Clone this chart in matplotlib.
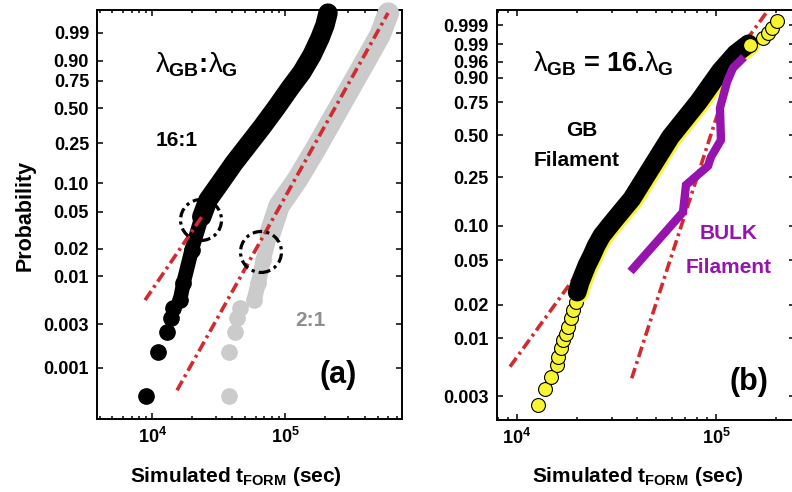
import numpy as np
import matplotlib
matplotlib.use('Agg')
import matplotlib.pyplot as plt
import matplotlib.transforms as mtransforms
from matplotlib.patches import Circle
from matplotlib.ticker import FixedLocator, LogLocator, NullLocator

plt.rcParams['font.family'] = ['Liberation Sans', 'DejaVu Sans']
plt.rcParams['mathtext.fontset'] = 'custom'
plt.rcParams['mathtext.rm'] = 'Liberation Sans'
plt.rcParams['mathtext.it'] = 'Liberation Sans'
plt.rcParams['mathtext.bf'] = 'Liberation Sans:bold'

# --- (a) lambda_GB : lambda_G, failure times (s) and Weibull probabilities ---
black_t = [8970, 10990, 12970, 13760, 14400, 16170, 17130, 19820, 23570, 26280,
           32370, 41270, 52630, 67100, 85540, 109100, 134300, 159800, 183500,
           200100, 210900]
black_p = [0.0005, 0.0015, 0.0025, 0.0035, 0.0045, 0.0055, 0.0084, 0.0195, 0.044,
           0.0665, 0.100, 0.160, 0.240, 0.351, 0.502, 0.684, 0.822, 0.929, 0.9828,
           0.9964, 0.9995]
gray_t = [37840, 37840, 42000, 43710, 45810, 58400, 62910, 68640, 77090, 90100,
          123200, 168300, 226100, 303600, 407700, 519900, 600300]
gray_p = [0.0005, 0.0015, 0.0025, 0.0035, 0.0045, 0.0055, 0.0084, 0.0152, 0.0293,
          0.0574, 0.1075, 0.215, 0.403, 0.666, 0.903, 0.9875, 0.9995]
fit16_t = [8810, 24110]
fit16_p = [0.00551, 0.0460]
fit2_t = [15350, 597400]
fit2_p = [0.00057, 0.99951]
rings_t = [23280, 65900]
rings_p = [0.0407, 0.0184]

# --- (b) GB filament vs BULK filament ---
gb_t = [12800, 13820, 14770, 15940, 16130, 16640, 17090, 17570, 18100, 18610,
        19180, 19790, 20420, 21140, 21960, 22820, 24170, 25440, 27150, 29340,
        31700, 34890, 38410, 47690, 60100, 83100, 107200, 127500, 148200, 172300,
        182500, 191200, 202500]
gb_p = [0.0025, 0.0035, 0.0045, 0.0057, 0.0068, 0.0081, 0.0096, 0.0110, 0.0127,
        0.0151, 0.0179, 0.0213, 0.0253, 0.0311, 0.0368, 0.0436, 0.0535, 0.0654,
        0.0800, 0.0946, 0.1114, 0.1355, 0.1642, 0.2850, 0.480, 0.7428, 0.925,
        0.9752, 0.9895, 0.99486, 0.99712, 0.99848, 0.99945]
bulk_t = [38410, 68290, 70670, 91160, 94380, 105900, 104700, 113600, 121700, 133600]
bulk_p = [0.0422, 0.1303, 0.2175, 0.3055, 0.356, 0.466, 0.7056, 0.878, 0.9403, 0.9642]
fitgb_t = [9223, 178400]
fitgb_p = [0.00553, 0.99986]
fitbulk_t = [37710, 133600]
fitbulk_p = [0.00434, 0.99214]

yt_a = [0.99, 0.90, 0.75, 0.50, 0.25, 0.10, 0.05, 0.02, 0.01, 0.003, 0.001]
yl_a = ['0.99', '0.90', '0.75', '0.50', '0.25', '0.10', '0.05', '0.02', '0.01', '0.003', '0.001']
yt_b = [0.999, 0.99, 0.96, 0.90, 0.75, 0.50, 0.25, 0.10, 0.05, 0.02, 0.01, 0.003]
yl_b = ['0.999', '0.99', '0.96', '0.90', '0.75', '0.50', '0.25', '0.10', '0.05', '0.02', '0.01', '0.003']

RED = '#d12a2f'
PURPLE = '#9613ae'
YELLOW = '#f6f433'
GRAY = '#cbcbcb'
DASHDOT = (0, (3, 1.2, 0.8, 1.2))
ROUND = dict(solid_capstyle='round', solid_joinstyle='round')


def weib(p):
    p = np.clip(np.asarray(p, dtype=float), 1e-12, 1 - 1e-15)
    return np.log(-np.log(1 - p))


def weib_inv(w):
    return 1 - np.exp(-np.exp(w))


def style_axes(ax, xlim, ylim, yt, yl):
    ax.set_xscale('log')
    ax.set_yscale('function', functions=(weib, weib_inv))
    ax.set_xlim(*xlim)
    ax.set_ylim(*ylim)
    ax.xaxis.set_major_locator(FixedLocator([1e4, 1e5]))
    ax.xaxis.set_minor_locator(LogLocator(base=10, subs=np.arange(2, 10)))
    ax.set_xticklabels([r'$\mathbf{10^4}$', r'$\mathbf{10^5}$'], fontsize=13)
    ax.set_yticks(yt, yl, fontsize=13, fontweight='bold')
    ax.yaxis.set_minor_locator(NullLocator())
    ax.tick_params(which='both', direction='in', top=True, right=True, width=1.1)
    ax.tick_params(which='major', length=4, pad=6)
    ax.tick_params(which='minor', length=2.5)
    for s in ax.spines.values():
        s.set_linewidth(1.4)


fig = plt.figure(figsize=(7.92, 4.92), dpi=100)
ax1 = fig.add_axes([0.1229, 0.1484, 0.3847, 0.8313])
ax2 = fig.add_axes([0.6279, 0.1463, 0.3759, 0.8333])

style_axes(ax1, (3850, 7.615e5), (2.77e-4, 0.99973), yt_a, yl_a)
style_axes(ax2, (7962, 2.495e5), (1.82e-3, 0.999921), yt_b, yl_b)

# ---------------- panel (a) ----------------
ax1.plot(black_t[5:10], black_p[5:10], '-', color='black', lw=10.5, zorder=3, **ROUND)
ax1.plot(black_t[8:], black_p[8:], '-', color='black', lw=14, zorder=3,
         clip_on=False, **ROUND)
ax1.plot(black_t, black_p, 'o', color='black', ms=11, zorder=3, clip_on=False)
ax1.plot(gray_t[5:10], gray_p[5:10], '-', color=GRAY, lw=11, zorder=3, **ROUND)
ax1.plot(gray_t[8:], gray_p[8:], '-', color=GRAY, lw=15.5, zorder=3,
         clip_on=False, **ROUND)
ax1.plot(gray_t, gray_p, 'o', color=GRAY, ms=11, zorder=3, clip_on=False)
ax1.plot(fit16_t, fit16_p, color=RED, lw=2.6, ls=DASHDOT, zorder=4)
ax1.plot(fit2_t, fit2_p, color=RED, lw=2.6, ls=DASHDOT, zorder=4)

for t, p in zip(rings_t, rings_p):
    tr = fig.dpi_scale_trans + mtransforms.ScaledTranslation(t, p, ax1.transData)
    ax1.add_patch(Circle((0, 0), 0.205, transform=tr, fill=False, ec='black',
                         lw=2.3, ls=(0, (3, 1.3, 1, 1.3)), zorder=6))

ax1.text(0.326, 0.866, r'$\lambda_{\mathbf{GB}}$:$\lambda_{\mathbf{G}}$',
         transform=ax1.transAxes, ha='center', va='center', fontsize=20,
         fontweight='bold')
ax1.text(0.262, 0.680, '16:1', transform=ax1.transAxes, ha='center', va='center',
         fontsize=15, fontweight='bold')
ax1.text(0.701, 0.242, '2:1', transform=ax1.transAxes, ha='center', va='center',
         fontsize=15, fontweight='bold', color='#8e8e8e')
ax1.text(0.790, 0.108, '(a)', transform=ax1.transAxes, ha='center', va='center',
         fontsize=22, fontweight='bold')

# ---------------- panel (b) ----------------
ax2.plot(fitgb_t, fitgb_p, color=RED, lw=2.6, ls=DASHDOT, zorder=2)
ax2.plot(fitbulk_t, fitbulk_p, color=RED, lw=2.6, ls=DASHDOT, zorder=2)
ax2.plot(gb_t[:29], gb_p[:29], 'o', mfc=YELLOW, mec='black', mew=0.8,
         ms=10, zorder=3)
ax2.plot(gb_t[12:29], gb_p[12:29], '-', color=YELLOW, lw=14.5, zorder=4, **ROUND)
shift = mtransforms.ScaledTranslation(-0.015, 0.012, fig.dpi_scale_trans)
ax2.plot(gb_t[12:29], gb_p[12:29], '-', color='black', lw=13.5, zorder=4,
         transform=ax2.transData + shift, **ROUND)
ax2.plot(gb_t[28:], gb_p[28:], 'o', mfc=YELLOW, mec='black', mew=0.8,
         ms=10, zorder=5)
ax2.plot(bulk_t, bulk_p, '-', color=PURPLE, lw=6, solid_joinstyle='miter',
         zorder=5)

ax2.text(0.355, 0.868, r'$\lambda_{\mathbf{GB}}$ = 16.$\lambda_{\mathbf{G}}$',
         transform=ax2.transAxes, ha='center', va='center', fontsize=19.5,
         fontweight='bold')
ax2.text(0.283, 0.707, 'GB', transform=ax2.transAxes, ha='center', va='center',
         fontsize=15, fontweight='bold')
ax2.text(0.268, 0.632, 'Filament', transform=ax2.transAxes, ha='center',
         va='center', fontsize=15, fontweight='bold')
ax2.text(0.778, 0.454, 'BULK', transform=ax2.transAxes, ha='center', va='center',
         fontsize=15, fontweight='bold', color=PURPLE)
ax2.text(0.778, 0.373, 'Filament', transform=ax2.transAxes, ha='center',
         va='center', fontsize=15, fontweight='bold', color=PURPLE)
ax2.text(0.846, 0.093, '(b)', transform=ax2.transAxes, ha='center', va='center',
         fontsize=22, fontweight='bold')

# axis labels
fig.text(25 / 792, 1 - 215 / 492, 'Probability', rotation=90, ha='center',
         va='center', fontsize=15.5, fontweight='bold')
fig.text(236 / 792, 1 - 482 / 492, r'Simulated $\mathbf{t_{FORM}}$ (sec)',
         ha='center', va='baseline', fontsize=15, fontweight='bold')
fig.text(638 / 792, 1 - 482 / 492, r'Simulated $\mathbf{t_{FORM}}$ (sec)',
         ha='center', va='baseline', fontsize=15, fontweight='bold')

fig.savefig('out.png', dpi=100)
